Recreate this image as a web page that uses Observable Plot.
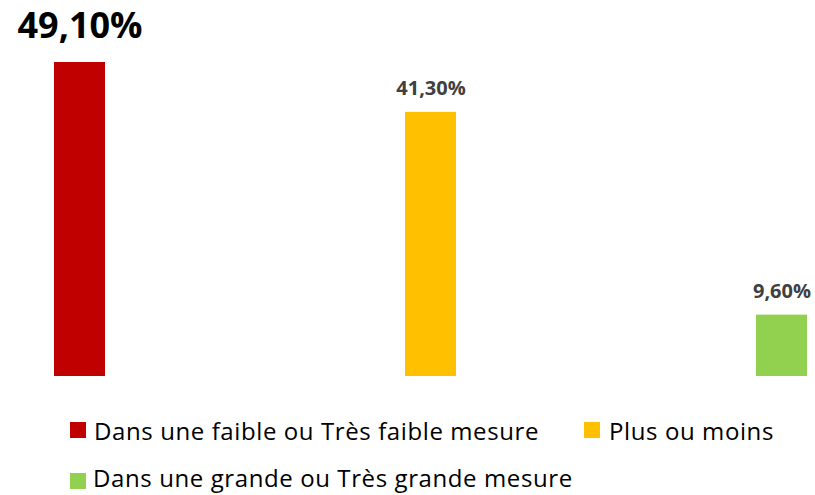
<!DOCTYPE html>
<html><head><meta charset="utf-8">
<script src="https://cdn.jsdelivr.net/npm/d3@7"></script>
<script src="https://cdn.jsdelivr.net/npm/@observablehq/plot@0.6"></script>
<style>
body{margin:0;background:#fff;font-family:"Open Sans",sans-serif;}
#wrap{position:relative;width:815px;height:495px;overflow:hidden;}
.lt{position:absolute;font-size:24px;line-height:24px;letter-spacing:0.6px;color:#000;white-space:nowrap;}
.sw{position:absolute;width:16px;height:16px;}
</style></head>
<body><div id="wrap"><div id="chart"></div></div>
<script>
const categories = ["Dans une faible ou Très faible mesure", "Plus ou moins", "Dans une grande ou Très grande mesure"];
const values = [49.1, 41.3, 9.6];
const labels = ["49,10%", "41,30%", "9,60%"];
const colors = ["#C00000", "#FFC000", "#92D050"];

const data = categories.map((c, i) => ({cat: c, v: values[i], lab: labels[i], i}));

const chart = Plot.plot({
  width: 815, height: 395,
  marginLeft: 53, marginRight: 8, marginTop: 62, marginBottom: 19,
  style: {fontFamily: "'Open Sans', sans-serif", background: "#fff"},
  x: {domain: categories, paddingInner: 0.855, paddingOuter: 0, axis: null},
  y: {domain: [0, 49.1], axis: null},
  color: {domain: categories, range: colors},
  marks: [
    Plot.barY(data, {x: "cat", y: "v", fill: "cat"}),
    Plot.text(data.filter(d => d.i === 0), {x: "cat", y: "v", text: "lab", dy: -25, lineAnchor: "bottom", fontSize: 36, fontWeight: "bold", fill: "#000"}),
    Plot.text(data.filter(d => d.i > 0), {x: "cat", y: "v", text: "lab", dy: -17, lineAnchor: "bottom", fontSize: 20, fontWeight: "bold", fill: "#404040"})
  ]
});
document.getElementById("chart").appendChild(chart);

// legend: [square x, square y, text x, baseline]
const legPos = [[70, 422, 94, 440], [584, 422, 609, 440], [70, 473, 93, 487]];
const wrap = document.getElementById("wrap");
categories.forEach((c, i) => {
  const [sx, sy, tx, bl] = legPos[i];
  const s = document.createElement("div");
  s.className = "sw";
  s.style.left = sx + "px"; s.style.top = sy + "px"; s.style.background = colors[i];
  wrap.appendChild(s);
  const t = document.createElement("div");
  t.className = "lt";
  t.textContent = c;
  t.style.left = tx + "px"; t.style.top = (bl - 21.3) + "px";
  wrap.appendChild(t);
});
</script></body></html>
